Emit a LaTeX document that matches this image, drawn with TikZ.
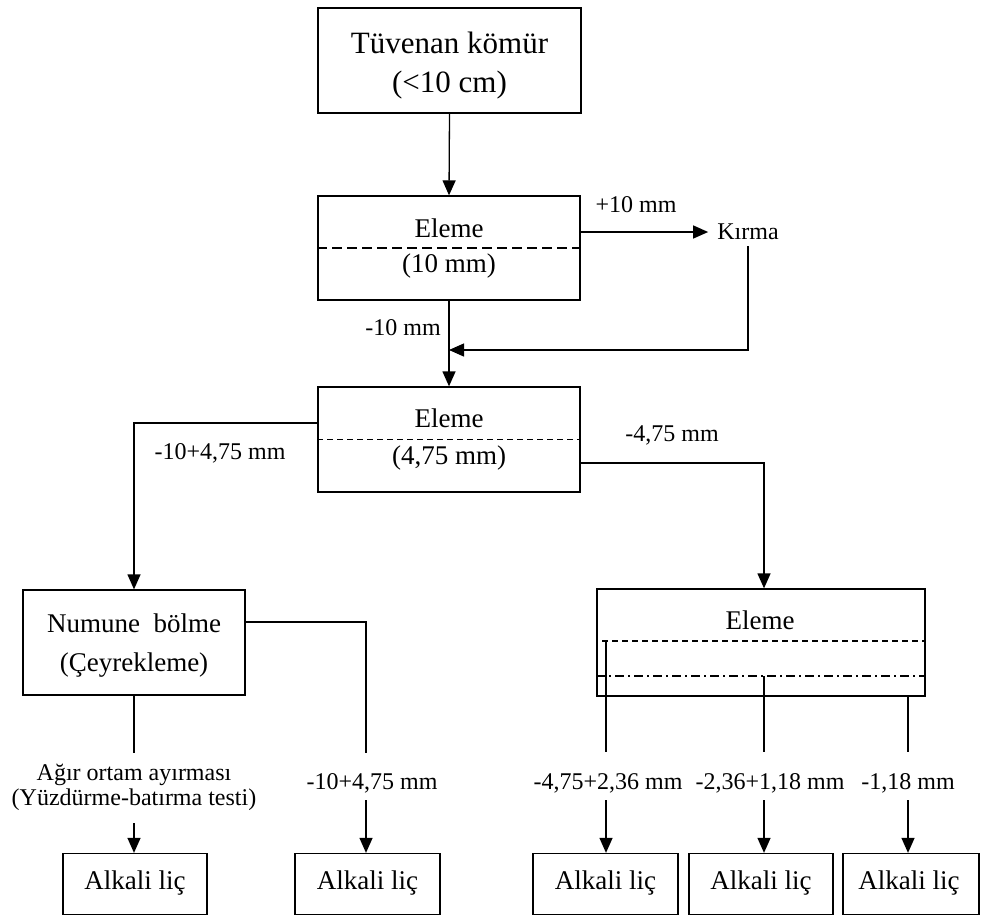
\documentclass[tikz,border=0pt]{standalone}
\usepackage{fontspec}
\setmainfont{Liberation Serif}
\usetikzlibrary{arrows.meta,calc}
\begin{document}
\begin{tikzpicture}[x=1pt,y=-1pt,
  box/.style={draw,line width=1.3pt,inner sep=0pt},
  btxt/.style={font=\fontsize{27}{32}\selectfont,inner sep=0pt},
  btxtbig/.style={font=\fontsize{31}{36}\selectfont,inner sep=0pt},
  lbl/.style={font=\fontsize{24}{28}\selectfont,inner sep=0pt},
  conn/.style={line width=1.3pt},
  arr/.style={conn,-{Triangle[length=15pt,width=13pt]}},
  longdash/.style={line width=1.1pt,dash pattern=on 10pt off 5pt},
  shortdash/.style={line width=1.1pt,dash pattern=on 6pt off 4pt},
  dashdotline/.style={line width=1.1pt,dash pattern=on 9pt off 4pt on 2pt off 4pt}]
\useasboundingbox (0,0) rectangle (981,916);
% boxes
\node[box,minimum width=263pt,minimum height=105pt] (b1) at (449.5,60.5) {};
\node[box,minimum width=262pt,minimum height=104pt] (b2) at (449,248) {};
\node[box,minimum width=262pt,minimum height=105pt] (b3) at (449,439.5) {};
\node[box,minimum width=328pt,minimum height=107pt] (b4) at (761,642.5) {};
\node[box,minimum width=222pt,minimum height=105pt] (b5) at (134,642.5) {};
\node[box,minimum width=144pt,minimum height=61pt] (b6) at (135,884) {};
\node[box,minimum width=145pt,minimum height=61pt] (b7) at (367.5,884) {};
\node[box,minimum width=145pt,minimum height=61pt] (b8) at (605.5,884) {};
\node[box,minimum width=144pt,minimum height=61pt] (b9) at (761,884) {};
\node[box,minimum width=136pt,minimum height=61pt] (b10) at (911,884) {};
% dividers
\draw[longdash] (b2.west) -- (b2.east);
\draw[shortdash] (b3.west) -- (b3.east);
\draw[shortdash] (602,641) -- (b4.east |- 0,641);
\draw[dashdotline] (b4.west |- 0,676) -- (b4.east |- 0,676);
% box texts
\node[btxtbig] (t1a) at (449.5,43) {Tüvenan kömür};
\node[btxtbig] (t1b) at (449.5,85) {(<10 cm)};
\node[btxt] (t2a) at (449,228) {Eleme};
\node[btxt] (t2b) at (449,266) {(10 mm)};
\node[btxt] (t3a) at (449,418) {Eleme};
\node[btxt] (t3b) at (449,458) {(4,75 mm)};
\node[btxt] (t4a) at (760,620) {Eleme};
\node[btxt] (t5a) at (134,623) {Numune\ \ bölme};
\node[btxt] (t5b) at (134,665) {(Çeyrekleme)};
\node[btxt] (t6) at (135,883) {Alkali liç};
\node[btxt] (t7) at (367.5,883) {Alkali liç};
\node[btxt] (t8) at (605.5,883) {Alkali liç};
\node[btxt] (t9) at (761,883) {Alkali liç};
\node[btxt] (t10) at (909,883) {Alkali liç};
% labels
\node[lbl] (lp10) at (636,205) {+10 mm};
\node[lbl,inner xsep=9pt,inner ysep=6pt] (kirma) at (748,232) {Kırma};
\node[lbl,anchor=east] (lm10) at (441,328) {-10 mm};
\node[lbl] (lm1047) at (220,453) {-10+4,75 mm};
\node[lbl] (lm475) at (672,435) {-4,75 mm};
\node[lbl] (lagir) at (134,775) {Ağır ortam ayırması};
\node[lbl] (lyuz) at (134,800) {(Yüzdürme-batırma testi)};
\node[lbl] (lb7) at (372,783) {-10+4,75 mm};
\node[lbl] (lb8) at (608,783) {-4,75+2,36 mm};
\node[lbl] (lb9) at (770,783) {-2,36+1,18 mm};
\node[lbl] (lb10) at (908,783) {-1,18 mm};
% coordinates for gaps
\coordinate (j) at (449,350);
\coordinate (g6a) at (134,753);
\coordinate (g6b) at (134,823);
\coordinate (g7a) at (366,753);
\coordinate (g7b) at (366,800);
\coordinate (g8t) at (606,641);
\coordinate (g8a) at (606,752);
\coordinate (g8b) at (606,800);
\coordinate (g9t) at (764,676);
\coordinate (g9a) at (764,752);
\coordinate (g9b) at (764,800);
\coordinate (g10a) at (908,752);
\coordinate (g10b) at (908,800);
% connectors
\draw[arr] (b1.south) -- (b2.north);
\draw[arr] ([yshift=16pt]b2.east) -- (kirma.west);
\draw[arr] (kirma.south) |- (j);
\draw[arr] (b2.south) -- (b3.north);
\draw[arr] ([yshift=16.5pt]b3.west) -| (b5.north);
\draw[arr] ([yshift=-23.5pt]b3.east) -| ([xshift=3pt]b4.north);
\draw[conn] (b5.south) -- (g6a);
\draw[arr] (g6b) -- (g6b |- b6.north);
\draw[conn] ([yshift=20.5pt]b5.east) -| (g7a);
\draw[arr] (g7b) -- (g7b |- b7.north);
\draw[conn] (g8t) -- (g8a);
\draw[arr] (g8b) -- (g8b |- b8.north);
\draw[conn] (g9t) -- (g9a);
\draw[arr] (g9b) -- (g9b |- b9.north);
\draw[conn] (g10a |- b4.south) -- (g10a);
\draw[arr] (g10b) -- (g10b |- b10.north);
\end{tikzpicture}
\end{document}
